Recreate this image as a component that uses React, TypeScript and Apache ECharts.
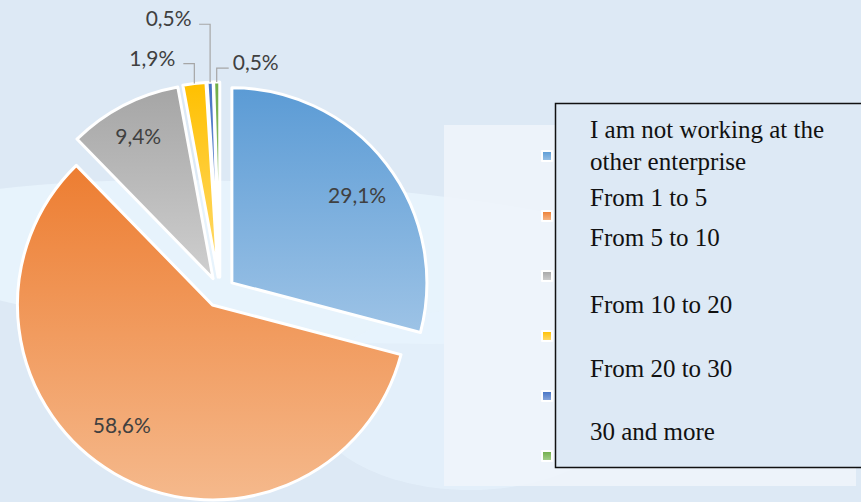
import React, { useEffect, useRef } from "react";
import * as echarts from "echarts";

// ---- data ----
const categories = [
  "I am not working at the other enterprise",
  "From 1 to 5",
  "From 5 to 10",
  "From 10 to 20",
  "From 20 to 30",
  "30 and more",
];
const shares = [29.1, 58.6, 9.4, 1.9, 0.5, 0.5];
const topColors = ["#5B9BD5", "#ED7D31", "#A5A5A5", "#FFC000", "#4472C4", "#70AD47"];
const bottomColors = ["#9DC3E6", "#F5B98C", "#CFCFCF", "#FFDB70", "#8FAADC", "#A9D18E"];

// ---- layout ----
const CX = 220;
const CY = 292;
const R = 195;
const OFF = 15;
const INSIDE_MIN = 5;
const insideTweak: Record<number, { rho: number; dAng: number }> = {
  0: { rho: 0.785, dAng: -2.5 },
  1: { rho: 0.77, dAng: -6.9 },
  2: { rho: 0.83, dAng: 0.2 },
};
const outsideTweak: Record<number, { rise: number; run: number; gap: number; ty: number }> = {
  3: { rise: 20, run: -11, gap: 8, ty: -6.5 },
  4: { rise: 58, run: -11, gap: 7.5, ty: -7 },
  5: { rise: 14, run: 12, gap: 4, ty: -7 },
};
const BOX_BASELINES = [138, 170, 206, 246, 313, 377, 440];
const BOX_FS = 25;

const total = shares.reduce((a, b) => a + b, 0);
const midAngles: number[] = (() => {
  let acc = 0;
  return shares.map((v) => {
    const s = 90 - (acc / total) * 360;
    acc += v;
    const e = 90 - (acc / total) * 360;
    return (s + e) / 2;
  });
})();

function sliceCenter(i: number): [number, number] {
  const a = (midAngles[i] * Math.PI) / 180;
  return [CX + OFF * Math.cos(a), CY - OFF * Math.sin(a)];
}

function wrap(text: string, maxChars: number): string[] {
  const words = text.split(" ");
  const lines: string[] = [];
  let cur = "";
  for (const w of words) {
    const cand = cur ? cur + " " + w : w;
    if (cand.length > maxChars && cur) {
      lines.push(cur);
      cur = w;
    } else cur = cand;
  }
  if (cur) lines.push(cur);
  return lines;
}

export default function App() {
  const ref = useRef<HTMLDivElement>(null);
  useEffect(() => {
    document.body.style.margin = "0";
    if (!ref.current) return;
    const chart = echarts.init(ref.current, undefined, { renderer: "svg" });

    const sliceData = shares.map((v, i) => ({
      name: categories[i],
      value: v,
      selected: true,
      itemStyle: {
        color: new echarts.graphic.LinearGradient(0, 0, 0, 1, [
          { offset: 0, color: topColors[i] },
          { offset: 1, color: bottomColors[i] },
        ]),
      },
    }));

    const labelData = shares.map((v, i) => {
      const inside = v >= INSIDE_MIN;
      return {
        name: categories[i],
        value: v,
        label: { position: inside ? "inside" : "outside" },
        labelLine: { show: !inside },
      };
    });

    const boxLines: string[] = [];
    categories.forEach((c) => wrap(c, 23).forEach((l) => boxLines.push(l)));

    const graphics: any[] = [
      {
        type: "ellipse",
        z: 0,
        shape: { cx: 300, cy: 262, rx: 430, ry: 78 },
        rotation: -0.06,
        originX: 300,
        originY: 262,
        style: { fill: "#EAF5FE", opacity: 0.75 },
        silent: true,
      },
      {
        type: "ellipse",
        z: 0,
        shape: { cx: 470, cy: 400, rx: 160, ry: 90 },
        style: { fill: "#E8F3FD", opacity: 0.6 },
        silent: true,
      },
      {
        type: "rect",
        z: 1,
        shape: { x: 444, y: 125, width: 412, height: 361 },
        style: { fill: "#EEF4FB", opacity: 0.9 },
        silent: true,
      },
      {
        type: "rect",
        z: 10,
        shape: { x: 555.5, y: 103.5, width: 330, height: 364 },
        style: { fill: "#DDE9F5", stroke: "#111", lineWidth: 1.5 },
        silent: true,
      },
      ...boxLines.map((t, k) => ({
        type: "text",
        z: 11,
        x: 590,
        y: BOX_BASELINES[k] - 0.34 * BOX_FS,
        style: {
          text: t,
          fontFamily: "Liberation Serif",
          fontSize: BOX_FS,
          fill: "#111",
          align: "left",
          verticalAlign: "middle",
        },
        silent: true,
      })),
    ];

    chart.setOption({
      animation: false,
      backgroundColor: "#DDE9F5",
      legend: {
        orient: "vertical",
        left: 536,
        top: 145,
        itemWidth: 10,
        itemHeight: 10,
        itemGap: 48,
        icon: "rect",
        selectedMode: false,
        formatter: () => "",
        textStyle: { fontSize: 10, lineHeight: 10 },
        itemStyle: { borderColor: "#ffffff", borderWidth: 2 },
        data: categories,
      },
      graphic: graphics,
      series: [
        {
          type: "pie",
          name: "slices",
          center: [CX, CY],
          radius: R,
          startAngle: 90,
          clockwise: true,
          selectedMode: "multiple",
          selectedOffset: OFF,
          itemStyle: { borderColor: "#ffffff", borderWidth: 3 },
          emphasis: { disabled: true },
          label: { show: false },
          labelLine: { show: false },
          data: sliceData,
        },
        {
          type: "pie",
          name: "labels",
          center: [CX, CY],
          radius: R,
          startAngle: 90,
          clockwise: true,
          silent: true,
          z: 3,
          itemStyle: { color: "rgba(0,0,0,0)", borderWidth: 0 },
          emphasis: { disabled: true },
          label: {
            show: true,
            formatter: (p: any) => p.value.toFixed(1).replace(".", ",") + "%",
            fontFamily: "Lato",
            fontSize: 21,
            color: "#404040",
          },
          labelLine: { lineStyle: { color: "#A6A6A6", width: 1.2 }, length: 10, length2: 10 },
          labelLayout: (params: any) => {
            const i = params.dataIndex;
            const [sx, sy] = sliceCenter(i);
            if (insideTweak[i]) {
              const t = insideTweak[i];
              const a = ((midAngles[i] + t.dAng) * Math.PI) / 180;
              return {
                x: sx + R * t.rho * Math.cos(a),
                y: sy - R * t.rho * Math.sin(a),
                align: "center",
                verticalAlign: "middle",
              };
            }
            const t = outsideTweak[i];
            const a = (midAngles[i] * Math.PI) / 180;
            const ex = sx + R * Math.cos(a);
            const ey = sy - R * Math.sin(a);
            const ly = ey - t.rise;
            const lx = ex + t.run;
            return {
              x: lx + Math.sign(t.run) * t.gap,
              y: ly + t.ty,
              align: t.run < 0 ? "right" : "left",
              verticalAlign: "middle",
              labelLinePoints: [
                [ex, ey],
                [ex, ly],
                [lx, ly],
              ],
            };
          },
          data: labelData,
        },
      ],
    });
    return () => chart.dispose();
  }, []);
  return <div ref={ref} style={{ width: 861, height: 502 }} />;
}
